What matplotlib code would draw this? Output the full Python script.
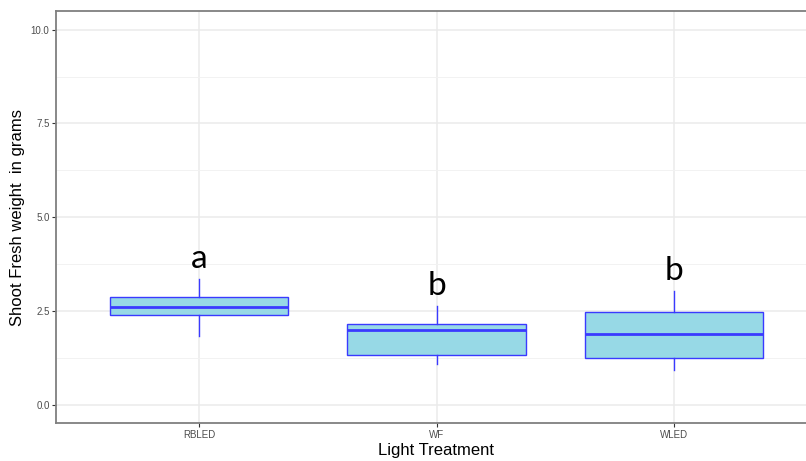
import matplotlib.pyplot as plt
from matplotlib.ticker import MultipleLocator

# box statistics
treatments = ["RBLED", "WF", "WLED"]
whisker_low = [1.84, 1.07, 0.93]
q1 = [2.38, 1.32, 1.23]
median = [2.61, 2.00, 1.87]
q3 = [2.86, 2.16, 2.47]
whisker_high = [3.36, 2.64, 3.04]
letters = ["a", "b", "b"]

stats = []
for i, name in enumerate(treatments):
    stats.append({"label": name, "whislo": whisker_low[i], "q1": q1[i], "med": median[i],
                  "q3": q3[i], "whishi": whisker_high[i], "fliers": []})

fill = "#97D9E6"
edge = "#3A3AFF"

fig = plt.figure(figsize=(8.06, 4.61), dpi=100)
ax = fig.add_axes([56.5 / 806, 1 - 423.3 / 461, (816.5 - 56.5) / 806, (423.3 - 11) / 461])

ax.bxp(stats, positions=[1, 2, 3], widths=0.75, patch_artist=True, showcaps=False,
       boxprops=dict(facecolor=fill, edgecolor=edge, linewidth=1.0),
       medianprops=dict(color=edge, linewidth=2.0),
       whiskerprops=dict(color=edge, linewidth=1.0), zorder=3)

for i, lab in enumerate(letters):
    ax.text(i + 1, whisker_high[i] + 0.52, lab, ha="center", va="center",
            fontsize=24, family="Lato", color="black", zorder=4)

ax.set_xlim(0.4, 3.6)
ax.set_ylim(-0.5, 10.5)
ax.yaxis.set_minor_locator(MultipleLocator(1.25))
ax.set_yticks([0, 2.5, 5, 7.5, 10])
ax.set_yticklabels(["0.0", "2.5", "5.0", "7.5", "10.0"])
ax.set_xticks([1, 2, 3])
ax.set_xticklabels(treatments)

ax.grid(which="major", color="#EBEBEB", linewidth=1.1, zorder=0)
ax.grid(which="minor", axis="y", color="#F2F2F2", linewidth=0.7, zorder=0)
ax.set_axisbelow(True)
ax.tick_params(axis="both", which="major", labelsize=7, labelcolor="#4D4D4D",
               color="#333333", length=3, width=0.8, pad=2)
ax.tick_params(axis="both", which="minor", length=0)
for lbl in ax.get_xticklabels() + ax.get_yticklabels():
    lbl.set_family("Liberation Sans")
for s in ax.spines.values():
    s.set_color("#7F7F7F")
    s.set_linewidth(1.3)

ax.set_xlabel("Light Treatment", fontsize=12, family="Liberation Sans", labelpad=2)
ax.set_ylabel("Shoot Fresh weight  in grams", fontsize=12, family="Liberation Sans", labelpad=4)

fig.savefig("out.png", dpi=100)
